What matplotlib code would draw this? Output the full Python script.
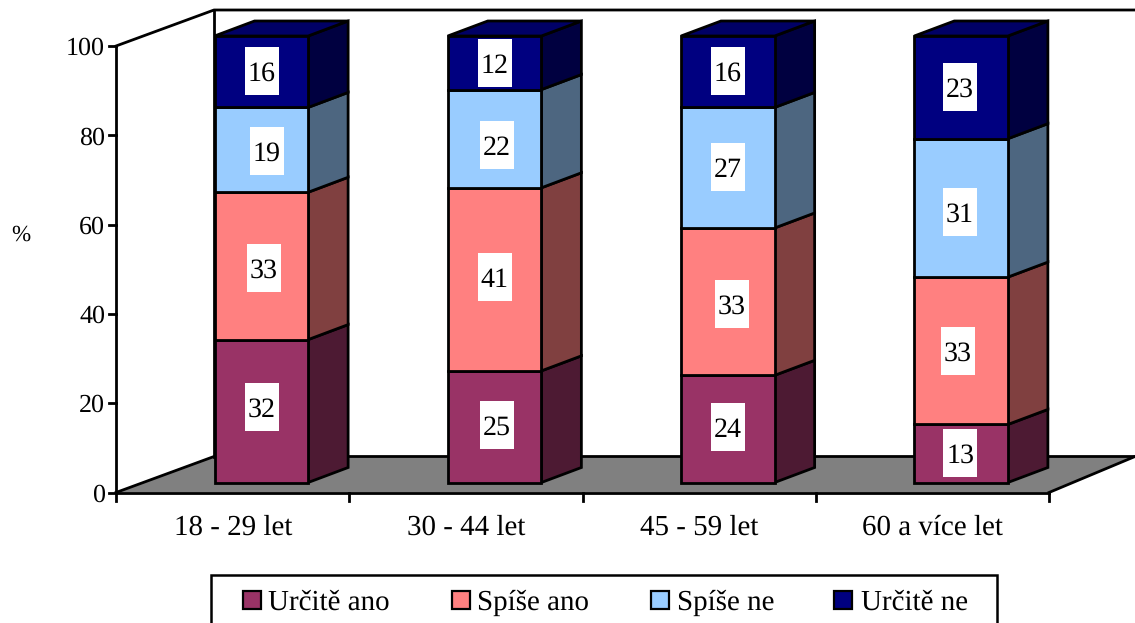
import matplotlib
matplotlib.use("Agg")
import matplotlib.pyplot as plt
from matplotlib.patches import Polygon, Rectangle

categories = ["18 - 29 let", "30 - 44 let", "45 - 59 let", "60 a více let"]
series_names = ["Určitě ano", "Spíše ano", "Spíše ne", "Určitě ne"]
urcite_ano = [32, 25, 24, 13]
spise_ano = [33, 41, 33, 33]
spise_ne = [19, 22, 27, 31]
urcite_ne = [16, 12, 16, 23]
yticks = [0, 20, 40, 60, 80, 100]

front_colors = ["#993366", "#FF8080", "#99CCFF", "#000080"]
side_colors = ["#4D1A33", "#804040", "#4D6680", "#000040"]
top_color = "#000066"
floor_color = "#808080"

# label placement nudges in pixels, per bar then per series (right, up)
nudge_x = [[0.5, 2.5, 5.5, 0.5], [2, 0, 2, 0], [0, 4, 0, 0], [-1, -3, -1, -1]]
nudge_y = [[3.6, -2.3, -1.3, 0.7], [2, 2, -6.4, 0], [1.5, -2.6, 0.6, 0.7], [0, -0.6, -4.3, 0.3]]

W, H = 1135, 623
plt.rcParams["font.family"] = ["Liberation Serif", "DejaVu Serif"]
plt.rcParams["text.hinting"] = "none"
plt.rcParams["text.hinting_factor"] = 1
fig = plt.figure(figsize=(W / 100, H / 100), dpi=100)

# front plane of the chart box, in pixels
L, R, B, T = 116, 1049, 492.5, 46
ax = fig.add_axes([L / W, 1 - B / H, (R - L) / W, (B - T) / H])
ax.set_xlim(0, 4)
ax.set_ylim(0, 100)
ax.axis("off")
sx = 4 / (R - L)
sy = 100 / (B - T)
LW = 2.0
K = "black"
kw = dict(edgecolor=K, linewidth=LW, clip_on=False, joinstyle="miter")

# floor and back wall
wdx, wdy = 98 * sx, 36 * sy
floor_r = (1135 - 1049) * sx
ax.add_patch(Polygon([(0, 0), (wdx, wdy), (4 + floor_r, wdy), (4, 0)],
                     facecolor=floor_color, edgecolor="none", clip_on=False, zorder=1))
ln = dict(color=K, lw=LW, clip_on=False, zorder=2, solid_capstyle="projecting")
ax.plot([0, wdx, 4 + floor_r], [0, wdy, wdy], **ln)
ax.plot([4, 4 + floor_r], [0, wdy], **ln)
ax.plot([wdx, wdx], [wdy, 100 + wdy], **ln)
ax.plot([0, wdx, 4 + floor_r], [100, 100 + wdy, 100 + wdy], **ln)
ax.plot([0, 0], [0, 100], **ln)
ax.plot([0, 4], [0, 0], **ln)

# ticks
for v in yticks:
    ax.plot([-7 * sx, 0], [v, v], **ln)
    ax.text(-11 * sx, v, str(v), ha="right", va="center_baseline", fontsize=18.6, color=K)
for i in range(5):
    ax.plot([i, i], [0, -8 * sy], **ln)
for i, c in enumerate(categories):
    ax.text(i + 0.5 + 0.5 * sx, -(535 - B) * sy, c, ha="center", va="baseline", fontsize=20.6, color=K)
ax.text(-95 * sx, (B - 235) * sy, "%", ha="center", va="center", fontsize=16.5, color=K)

# stacked 3D bars
ox, oy = 28.7 * sx, 10 * sy
bw = 93.6 * sx
ddx, ddy = 40 * sx, 15 * sy
box_w, box_h = 34 * sx, 48 * sy
series = [urcite_ano, spise_ano, spise_ne, urcite_ne]
for i in range(len(categories)):
    x0 = i + 0.5 - bw / 2 + ox
    x1 = x0 + bw
    base = 0
    for s, vals in enumerate(series):
        v = vals[i]
        y0, y1 = base + oy, base + v + oy
        ax.add_patch(Polygon([(x1, y0), (x1 + ddx, y0 + ddy), (x1 + ddx, y1 + ddy), (x1, y1)],
                             facecolor=side_colors[s], zorder=3, **kw))
        ax.add_patch(Polygon([(x0, y0), (x1, y0), (x1, y1), (x0, y1)],
                             facecolor=front_colors[s], zorder=4, **kw))
        if s == len(series) - 1:
            ax.add_patch(Polygon([(x0, y1), (x1, y1), (x1 + ddx, y1 + ddy), (x0 + ddx, y1 + ddy)],
                                 facecolor=top_color, zorder=3, **kw))
        cx = (x0 + x1) / 2 + nudge_x[i][s] * sx
        cy = (y0 + y1) / 2 + nudge_y[i][s] * sy
        ax.add_patch(Rectangle((cx - box_w / 2, cy - box_h / 2), box_w, box_h,
                               facecolor="white", edgecolor="none", zorder=5, clip_on=False))
        ax.text(cx, cy, str(v), ha="center", va="center_baseline",
                fontsize=20.5, color=K, zorder=6)
        base += v

# legend
ov = fig.add_axes([0, 0, 1, 1])
ov.set_xlim(0, W)
ov.set_ylim(H, 0)
ov.axis("off")
ov.patch.set_alpha(0)
ov.add_patch(Rectangle((211, 575), 786, 60, facecolor="white", edgecolor=K, linewidth=1.8, clip_on=True))
swatch_x = [243, 452, 651, 834]
text_x = [268, 477, 677, 861]
for n, c, sxp, tx in zip(series_names, front_colors, swatch_x, text_x):
    ov.add_patch(Rectangle((sxp, 591), 18, 18, facecolor=c, edgecolor=K, linewidth=1.6))
    ov.text(tx, 610, n, ha="left", va="baseline", fontsize=21, color=K)

fig.savefig("out.png", dpi=100)
